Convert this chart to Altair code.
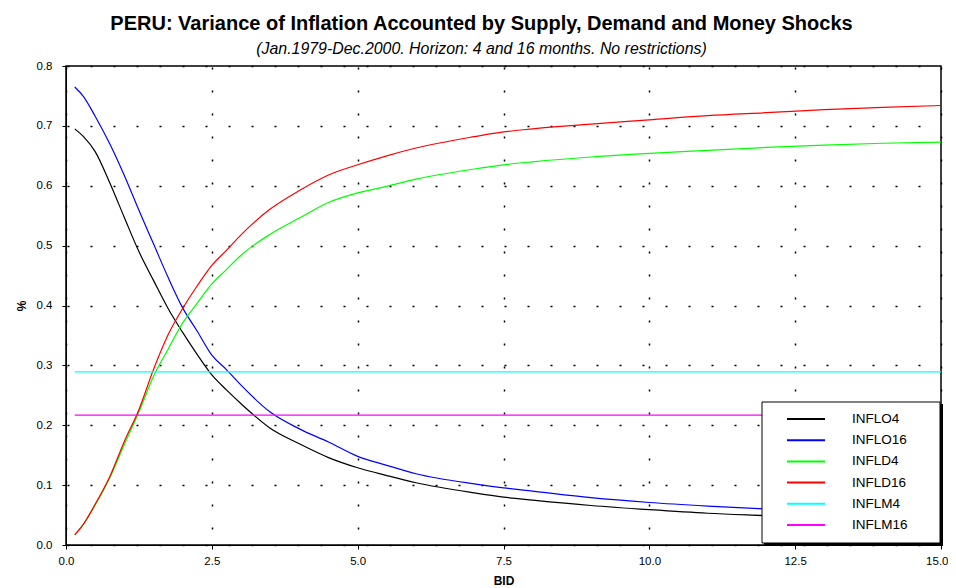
import altair as alt
import pandas as pd

# ---- data ----
horizon = [0.15, 0.3, 0.5, 0.75, 1.0, 1.25, 1.5, 1.75, 2.0, 2.25, 2.5, 2.75, 3.0,
           3.5, 4.0, 4.5, 5.0, 5.5, 6.0, 7.0, 7.5, 8.0, 9.0, 10.0, 11.0, 12.0,
           13.0, 14.0, 15.0]

inflo4 = [0.695, 0.682, 0.657, 0.605, 0.547, 0.490, 0.442, 0.395, 0.355, 0.318,
          0.284, 0.259, 0.236, 0.195, 0.169, 0.146, 0.129, 0.116, 0.104, 0.087,
          0.080, 0.075, 0.066, 0.059, 0.053, 0.049, 0.045, 0.042, 0.040]

inflo16 = [0.765, 0.749, 0.716, 0.670, 0.617, 0.559, 0.503, 0.447, 0.396, 0.357,
           0.317, 0.293, 0.267, 0.222, 0.194, 0.172, 0.148, 0.133, 0.119, 0.102,
           0.0955, 0.090, 0.079, 0.071, 0.065, 0.060, 0.056, 0.053, 0.050]

infld4 = [0.017, 0.035, 0.067, 0.112, 0.168, 0.222, 0.282, 0.327, 0.371, 0.404,
          0.436, 0.460, 0.484, 0.519, 0.546, 0.572, 0.588, 0.599, 0.611, 0.628,
          0.635, 0.640, 0.648, 0.654, 0.659, 0.664, 0.668, 0.671, 0.673]

infld16 = [0.017, 0.035, 0.068, 0.114, 0.173, 0.226, 0.293, 0.351, 0.395, 0.433,
           0.467, 0.492, 0.518, 0.561, 0.592, 0.618, 0.635, 0.650, 0.663, 0.682,
           0.690, 0.695, 0.703, 0.710, 0.717, 0.722, 0.727, 0.731, 0.734]

inflm4_level = 0.289
inflm16_level = 0.217

series_names = ["INFLO4", "INFLO16", "INFLD4", "INFLD16", "INFLM4", "INFLM16"]
series_colors = ["#000000", "#0000ff", "#00ff00", "#ff0000", "#00ffff", "#ff00ff"]

x_ticks = [0.0, 2.5, 5.0, 7.5, 10.0, 12.5, 15.0]
y_ticks = [0.0, 0.1, 0.2, 0.3, 0.4, 0.5, 0.6, 0.7, 0.8]

# ---- build tables ----
series_values = [inflo4, inflo16, infld4, infld16,
                 [inflm4_level] * len(horizon), [inflm16_level] * len(horizon)]
rows = []
for name, vals in zip(series_names, series_values):
    for x, v in zip(horizon, vals):
        rows.append({"BID": x, "value": v, "series": name})
df = pd.DataFrame(rows)

leg_df = pd.DataFrame({"series": series_names, "row": list(range(len(series_names)))})
box_df = pd.DataFrame({"k": [0]})

FONT = "Liberation Sans"

color = alt.Color("series:N",
                  scale=alt.Scale(domain=series_names, range=series_colors),
                  legend=None)

lines = alt.Chart(df).mark_line(strokeWidth=1.2, interpolate="monotone").encode(
    x=alt.X("BID:Q",
            scale=alt.Scale(domain=[0, 15], nice=False, zero=False),
            axis=alt.Axis(values=x_ticks, format=".1f", title="BID",
                          labelFlush=False, labelPadding=6, titlePadding=9,
                          labelAlign={"condition": {"test": "datum.value >= 15", "value": "right"},
                                      "value": "center"},
                          labelOffset={"condition": {"test": "datum.value >= 15", "value": 7},
                                       "value": 0},
                          gridDash=[2, 21], gridDashOffset=22)),
    y=alt.Y("value:Q",
            scale=alt.Scale(domain=[0, 0.8], nice=False),
            axis=alt.Axis(values=y_ticks, format=".1f", title="%",
                          labelFlush=False, labelPadding=10, titlePadding=8,
                          gridDash=[2, 21], gridDashOffset=22)),
    color=color,
    order=alt.Order("BID:Q"),
)

shadow = alt.Chart(box_df).mark_rect(color="black").encode(
    x=alt.value(698), x2=alt.value(877), y=alt.value(338), y2=alt.value(480))
box = alt.Chart(box_df).mark_rect(fill="white", stroke="black", strokeWidth=1).encode(
    x=alt.value(696), x2=alt.value(874), y=alt.value(336), y2=alt.value(477))

leg_y = alt.Y("row:Q", scale=alt.Scale(domain=[0, 5], range=[353, 459]), axis=None)
leg_rules = alt.Chart(leg_df).mark_rule(strokeWidth=2).encode(
    x=alt.value(721), x2=alt.value(759), y=leg_y, color=color)
leg_text = alt.Chart(leg_df).mark_text(
    align="left", baseline="middle", fontSize=13.5, font=FONT, color="black").encode(
    x=alt.value(786), y=leg_y, text="series:N")

chart = alt.layer(lines, shadow, box, leg_rules, leg_text).resolve_scale(
    y="independent"
).properties(
    width=875,
    height=479,
    title=alt.TitleParams(
        text="PERU: Variance of Inflation Accounted by Supply, Demand and Money Shocks",
        subtitle="(Jan.1979-Dec.2000. Horizon: 4 and 16 months. No restrictions)",
        font=FONT, fontSize=20, fontWeight="bold", color="black",
        subtitleFont=FONT, subtitleFontSize=15.9, subtitleFontStyle="italic",
        subtitleColor="black", subtitlePadding=7, offset=3, anchor="middle",
        dx=-22,
    ),
    autosize=alt.AutoSizeParams(type="none"),
    padding={"left": 58, "top": 58, "right": 7, "bottom": 46},
).configure_view(
    stroke="black", strokeWidth=1.5
).configure_axis(
    labelFont=FONT, labelFontSize=11.5, labelColor="black",
    titleFont=FONT, titleFontSize=12, titleFontWeight="bold", titleColor="black",
    tickColor="black", tickSize=4, domainColor="black",
    gridColor="black", gridWidth=1.5, gridOpacity=1,
)

chart.save("out.html", embed_options={"renderer": "svg", "actions": False})
